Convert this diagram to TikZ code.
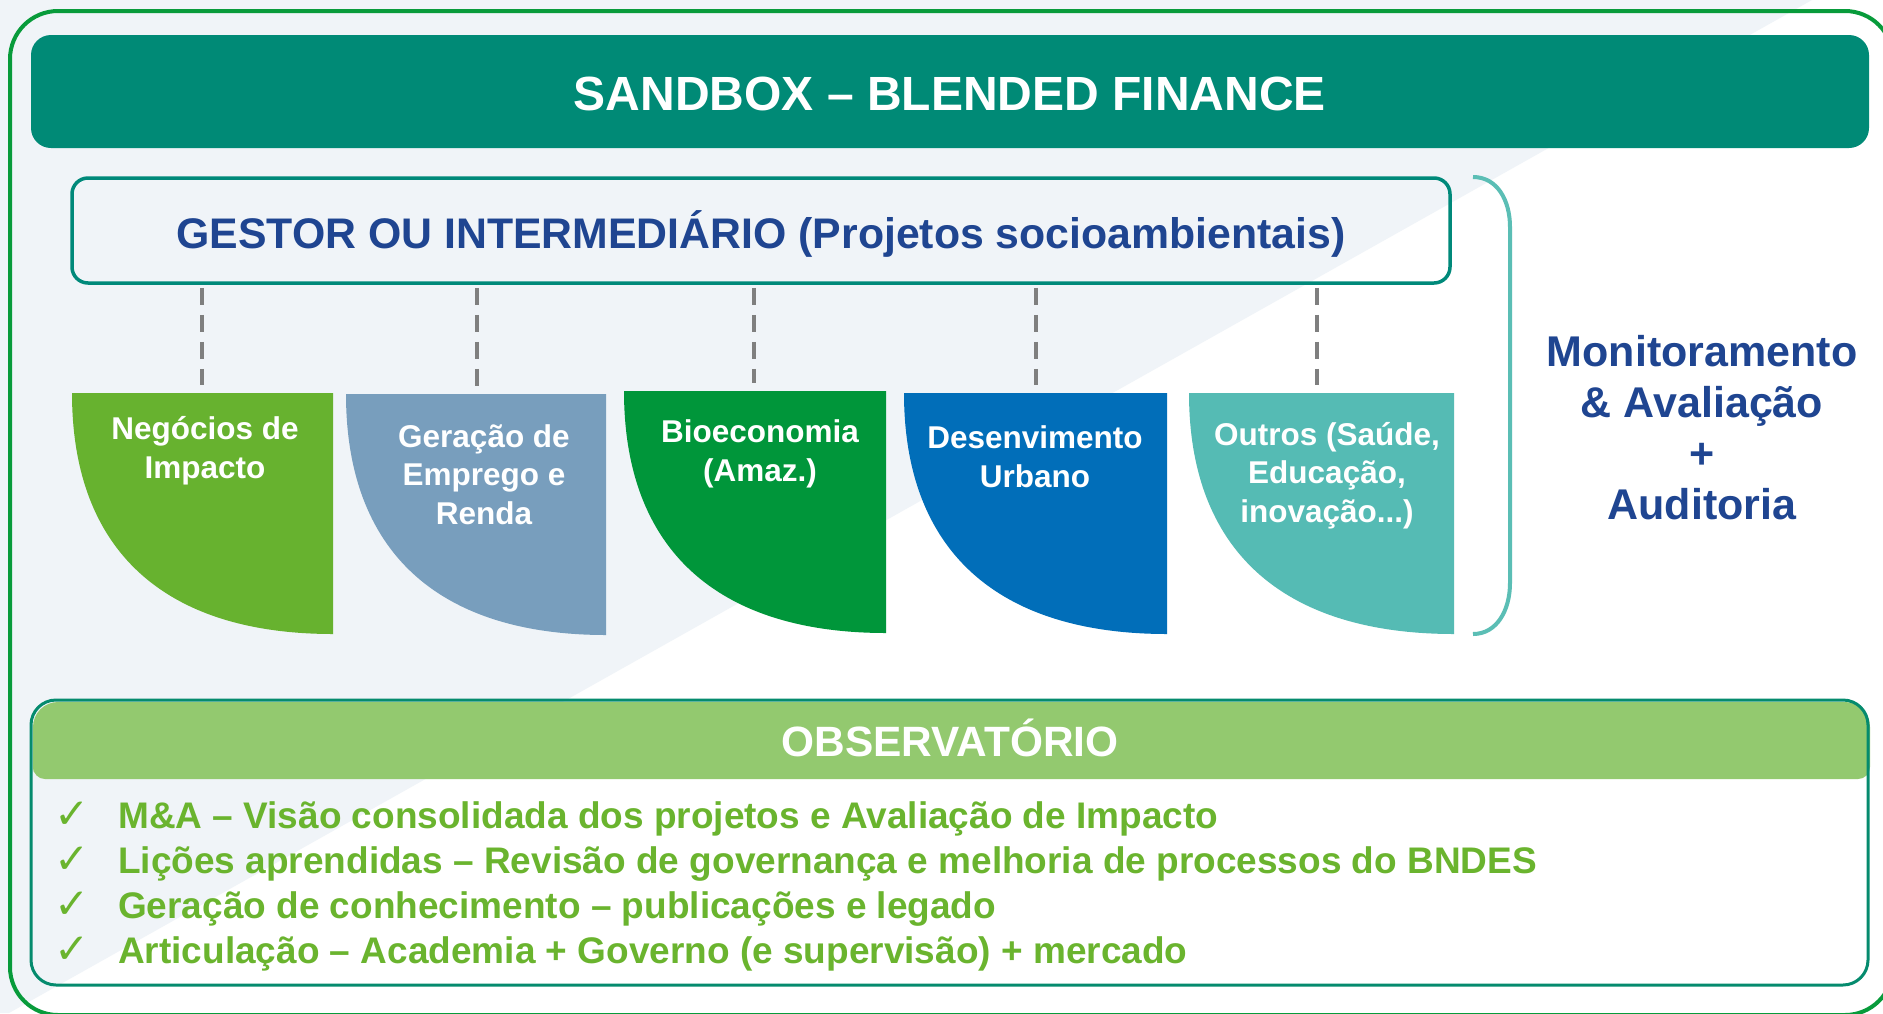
\documentclass[tikz,border=0pt]{standalone}
\usepackage{fontspec}
\setmainfont{Liberation Sans}
\newfontfamily\dejavu{DejaVu Sans}
\definecolor{bannerteal}{HTML}{008A76}
\definecolor{gestorteal}{HTML}{00897A}
\definecolor{navy}{HTML}{1F4591}
\definecolor{shA}{HTML}{67B22F}
\definecolor{shB}{HTML}{789EBD}
\definecolor{shC}{HTML}{00963A}
\definecolor{shD}{HTML}{016EB9}
\definecolor{shE}{HTML}{55BBB4}
\definecolor{bracketc}{HTML}{5BBEB5}
\definecolor{outergreen}{HTML}{089B3B}
\definecolor{obsborder}{HTML}{058B6E}
\definecolor{obshead}{HTML}{93C96F}
\definecolor{itemgreen}{HTML}{6AB42E}
\definecolor{dashgray}{HTML}{7F7F7F}
\definecolor{lightbg}{HTML}{F0F4F8}
\newcommand\sectorshape[5]{% x1, top, x2, bot, colour
  \fill[#5] (#1,#2) -- (#3,#2) -- (#3,#4) .. controls ({#3-0.65*(#3-#1)},#4) and (#1,{#2+0.65*(#4-#2)}) .. (#1,#2) -- cycle;}
\tikzset{
  dashln/.style={dashgray, line width=3.5, dash pattern=on 17 off 10, shorten <=3, shorten >=8},
  shapetext/.style={anchor=base, align=center, text=white, inner sep=0, font=\fontsize{31.5}{38.5}\selectfont\bfseries},
  itemtext/.style={anchor=base west, inner sep=0, text=itemgreen, font=\fontsize{37}{44}\selectfont\bfseries},
  checkmk/.style={anchor=base, inner sep=0, text=itemgreen, font=\fontsize{42}{48}\selectfont\dejavu},
}
\begin{document}
\begin{tikzpicture}[x=1pt,y=-1pt]
\useasboundingbox (0,0) rectangle (1883,1013);
\clip (0,0) rectangle (1883,1013);
\fill[white] (0,0) rectangle (1883,1013);
\fill[lightbg] (0,0) -- (1812,0) -- (9,1013) -- (0,1013) -- cycle;
\draw[outergreen, line width=4, rounded corners=48] (10,11) rectangle (1893,1015);

% banner
\node[fill=bannerteal, rounded corners=20, minimum width=1838, minimum height=113, inner sep=0] (banner) at (950,91.5) {};
\node[anchor=base, inner sep=0, text=white, font=\fontsize{48}{58}\selectfont\bfseries] (title) at (950,110) {SANDBOX – BLENDED FINANCE};

% gestor
\node[draw=gestorteal, line width=3.5, rounded corners=16, minimum width=1378, minimum height=105, inner sep=0] (gestor) at (761,230.5) {};
\node[anchor=base, inner sep=0, text=navy, font=\fontsize{42.8}{52}\selectfont\bfseries] (gestortxt) at (761,248) {GESTOR OU INTERMEDIÁRIO (Projetos socioambientais)};

% sectors
\sectorshape{72}{393}{333}{634}{shA}
\sectorshape{346}{394}{606}{635}{shB}
\sectorshape{624}{391}{886}{633}{shC}
\sectorshape{904}{393}{1167}{634}{shD}
\sectorshape{1189}{393}{1454}{634}{shE}

\coordinate (t1) at (202,393);
\coordinate (t2) at (477,394);
\coordinate (t3) at (754,391);
\coordinate (t4) at (1036,393);
\coordinate (t5) at (1317,393);
\foreach \t in {t1,t2,t3,t4,t5}{\draw[dashln] (gestor.south -| \t) -- (\t);}

% multi-line nodes: base = baseline of the last line
\node[shapetext] (s1) at (205,478) {Negócios de\\Impacto};
\node[shapetext] (s2) at (484,524) {Geração de\\Emprego e\\Renda};
\node[shapetext] (s3) at (760,481) {Bioeconomia\\(Amaz.)};
\node[shapetext] (s4) at (1035,487) {Desenvimento\\Urbano};
\node[shapetext] (s5) at (1327,522) {Outros (Saúde,\\Educação,\\inovação...)};

% bracket
\draw[bracketc, line width=4] (1473,177) .. controls (1497,177) and (1510,200) .. (1510,227) -- (1510,583) .. controls (1510,610) and (1497,634) .. (1473,634);
\node[anchor=base, align=center, inner sep=0, text=navy, font=\fontsize{43}{51}\selectfont\bfseries] (mon) at (1702,519) {Monitoramento\\\& Avaliação\\+\\Auditoria};

% observatorio
\fill[obshead] (33,760) [rounded corners=25] -- (33,702) -- (1870,702) [rounded corners=12] -- (1870,779) -- (33,779) -- cycle;
\draw[obsborder, line width=3, rounded corners=25] (31,700) rectangle (1868,985);
\node[anchor=base, inner sep=0, text=white, font=\fontsize{42.4}{50}\selectfont\bfseries] (obs) at (950,756) {OBSERVATÓRIO};

\node[checkmk] (c1) at (72,828) {✓};
\node[checkmk] (c2) at (72,873) {✓};
\node[checkmk] (c3) at (72,918) {✓};
\node[checkmk] (c4) at (72,963) {✓};
\node[itemtext] (i1) at (118,828) {M\&A – Visão consolidada dos projetos e Avaliação de Impacto};
\node[itemtext] (i2) at (118,873) {Lições aprendidas – Revisão de governança e melhoria de processos do BNDES};
\node[itemtext] (i3) at (118,918) {Geração de conhecimento – publicações e legado};
\node[itemtext] (i4) at (118,963) {Articulação – Academia + Governo (e supervisão) + mercado};
\end{tikzpicture}
\end{document}
